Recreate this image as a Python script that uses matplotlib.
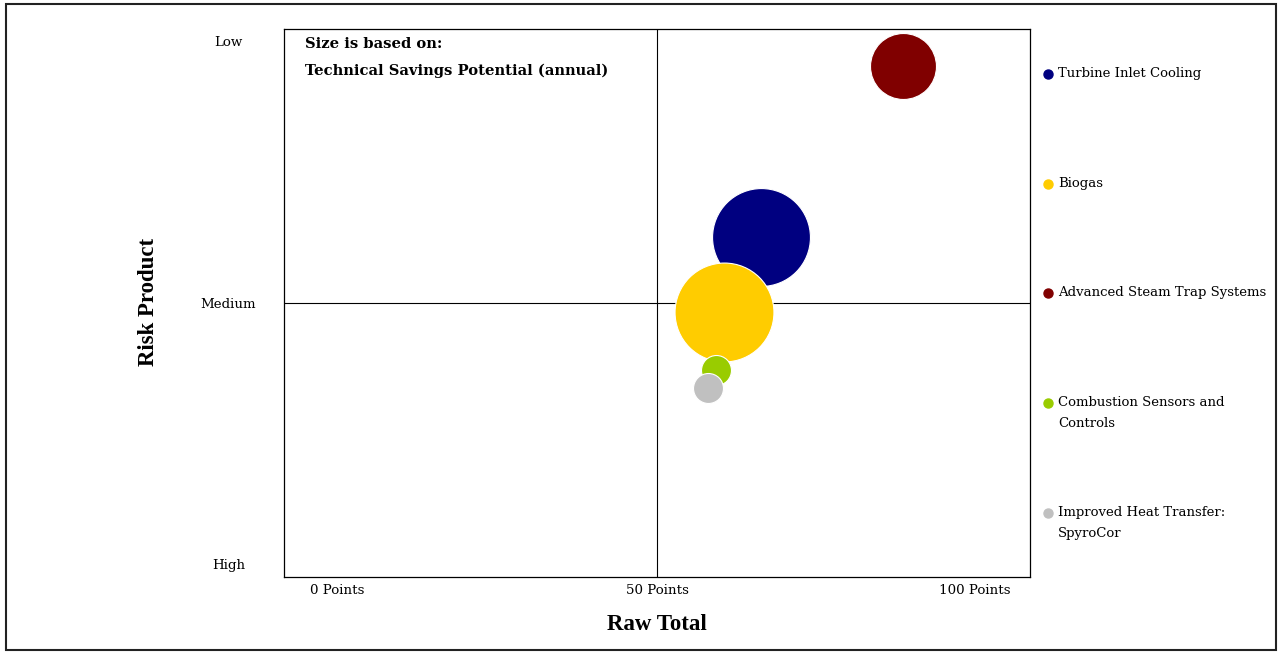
import matplotlib
matplotlib.use("Agg")
import matplotlib.pyplot as plt
from matplotlib.patches import Rectangle
from matplotlib.lines import Line2D

plt.rcParams['font.family'] = ['DejaVu Serif']
times = ['Liberation Serif', 'DejaVu Serif']

# data
projects = ['Turbine Inlet Cooling', 'Biogas', 'Advanced Steam Trap Systems',
            'Combustion Sensors and\nControls', 'Improved Heat Transfer:\nSpyroCor']
raw_total = [64.0, 59.0, 83.0, 57.9, 56.8]       # x, points
risk_product = [62.1, 48.3, 93.2, 37.8, 34.5]    # y, 0 = high risk, 100 = low risk
savings = [2400, 2450, 1090, 225, 225]           # technical savings potential (relative)
colors = ['#000080', '#FFCC00', '#800000', '#99CC00', '#C0C0C0']

x_tick_pos = [7.1, 50, 92.6]
x_tick_labels = ['0 Points', '50 Points', '100 Points']
y_tick_pos = [97.8, 50, 2.4]
y_tick_labels = ['Low', 'Medium', 'High']

fig = plt.figure(figsize=(12.78, 6.52), dpi=100)
ax = fig.add_axes([284 / 1278, 75 / 652, 746 / 1278, 548 / 652])

# bubbles, area proportional to savings
sizes = [v * 2.07 for v in savings]
for i in range(len(projects)):
    ax.scatter(raw_total[i], risk_product[i], s=sizes[i], color=colors[i],
               edgecolors='white', linewidths=0.8, zorder=3)

# quadrant lines
ax.axvline(50, color='black', lw=0.8, zorder=2)
ax.axhline(50, color='black', lw=0.8, zorder=2)

ax.set_xlim(0, 100)
ax.set_ylim(0, 100)
ax.set_xticks(x_tick_pos)
ax.set_xticklabels(x_tick_labels, fontsize=9.6)
ax.set_yticks(y_tick_pos)
ax.set_yticklabels(y_tick_labels, fontsize=9.6, ha='center')
ax.tick_params(axis='x', length=0, pad=5)
ax.tick_params(axis='y', length=0, pad=40)
for sp in ax.spines.values():
    sp.set_linewidth(0.9)

ax.set_xlabel('Raw Total', fontsize=16.5, fontweight='bold', labelpad=12, family=times)
fig.text(148 / 1278, 1 - 302 / 652, 'Risk Product', fontsize=16.5, fontweight='bold',
         rotation=90, ha='center', va='center', family=times)

ax.text(305 / 1278, 1 - 44 / 652, 'Size is based on:', transform=fig.transFigure,
        fontsize=10.6, fontweight='bold', va='center')
ax.text(305 / 1278, 1 - 71 / 652, 'Technical Savings Potential (annual)', transform=fig.transFigure,
        fontsize=10.6, fontweight='bold', va='center')

# legend drawn by hand so markers line up with the first text line
leg_y = [74, 184, 293, 403, 513]
for i in range(len(projects)):
    yy = 1 - leg_y[i] / 652
    fig.add_artist(Line2D([1048 / 1278], [yy], marker='o', markersize=6.5,
                          color=colors[i], linestyle='none'))
    fig.text(1058 / 1278, yy + 7 / 652, projects[i], fontsize=9.5, va='top',
             linespacing=1.8)

# outer frame
fig.add_artist(Rectangle((6 / 1278, 2 / 652), 1270 / 1278, 646 / 652,
                         transform=fig.transFigure, fill=False,
                         edgecolor='#222222', lw=1.5))

fig.savefig('out.png', dpi=100)
